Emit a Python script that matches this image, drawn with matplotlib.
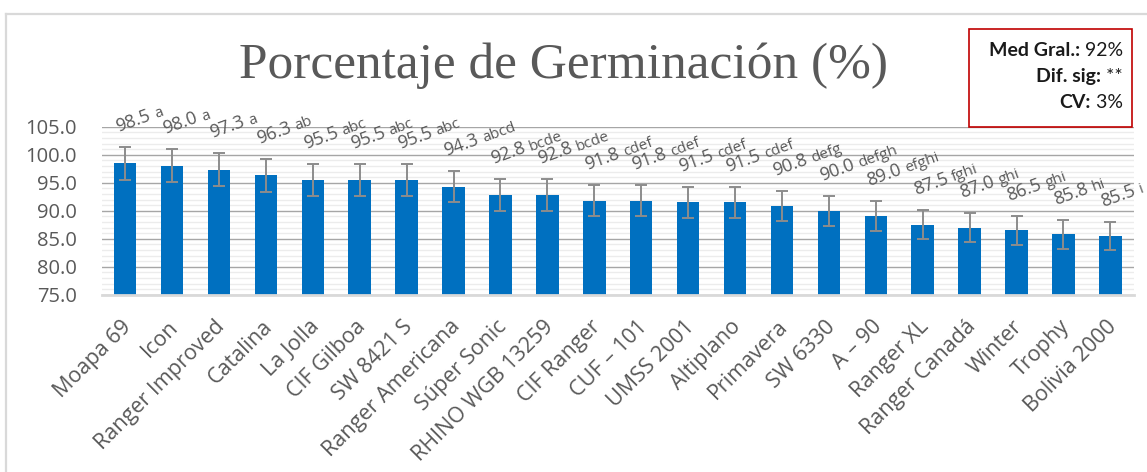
import matplotlib
matplotlib.use("Agg")
import matplotlib.pyplot as plt
from matplotlib.lines import Line2D
from matplotlib.patches import Rectangle
import numpy as np

# datos
variedades = ['Moapa 69', 'Icon', 'Ranger Improved', 'Catalina', 'La Jolla',
              'CIF Gilboa', 'SW 8421 S', 'Ranger Americana', 'Súper Sonic',
              'RHINO WGB 13259', 'CIF Ranger', 'CUF – 101', 'UMSS 2001',
              'Altiplano', 'Primavera', 'SW 6330', 'A – 90', 'Ranger XL',
              'Ranger Canadá', 'Winter', 'Trophy', 'Bolivia 2000']
germinacion = [98.5, 98.0, 97.3, 96.3, 95.5, 95.5, 95.5, 94.3, 92.8, 92.8, 91.8,
               91.8, 91.5, 91.5, 90.8, 90.0, 89.0, 87.5, 87.0, 86.5, 85.8, 85.5]
error = [2.96, 2.94, 2.92, 2.89, 2.87, 2.87, 2.87, 2.83, 2.78, 2.78, 2.75,
         2.75, 2.75, 2.75, 2.72, 2.70, 2.67, 2.63, 2.61, 2.60, 2.57, 2.57]
letras = ['a', 'a', 'a', 'ab', 'abc', 'abc', 'abc', 'abcd', 'bcde', 'bcde', 'cdef',
          'cdef', 'cdef', 'cdef', 'defg', 'defgh', 'efghi', 'fghi', 'ghi', 'ghi', 'hi', 'i']

W, H = 1147, 472
fig = plt.figure(figsize=(W / 100, H / 100), dpi=100)
ax = fig.add_axes([101.7 / W, 1 - 294.7 / H, (1133.8 - 101.7) / W, (294.7 - 126.7) / H])

gris = '#595959'
x = np.arange(len(variedades))
ax.bar(x, np.array(germinacion) - 75, bottom=75, width=0.48, color='#0070C0', zorder=3)
ax.errorbar(x, germinacion, yerr=error, fmt='none', ecolor='#8c8c8c',
            elinewidth=1.4, capsize=4.5, capthick=1.4, zorder=4)

ax.set_xlim(-0.5, len(variedades) - 0.5)
ax.set_ylim(75, 105)
ax.set_yticks(np.arange(75, 106, 5))
ax.set_yticks(np.arange(75, 106, 1), minor=True)
ax.set_yticklabels(['%.1f' % v for v in np.arange(75, 106, 5)],
                   fontfamily='Open Sans', fontsize=14.5, color=gris)
ax.grid(axis='y', which='major', color='#a6a6a6', lw=1, zorder=1)
ax.grid(axis='y', which='minor', color='#ececec', lw=1, zorder=0)
ax.tick_params(axis='y', which='both', length=0, pad=18)
ax.tick_params(axis='x', length=0)
for s in ['top', 'right', 'left']:
    ax.spines[s].set_visible(False)
ax.spines['bottom'].set_color('#d9d9d9')
ax.spines['bottom'].set_linewidth(2)
ax.spines['bottom'].set_zorder(5)

ax.set_xticks(x)
ax.set_xticklabels([])
for i, v in enumerate(variedades):
    ax.annotate(v, xy=(i, 75), xytext=(3, -29), textcoords='offset pixels',
                rotation=45, ha='right', va='center', rotation_mode='anchor',
                fontfamily='Open Sans', fontsize=15.5, color=gris, annotation_clip=False)

# etiquetas de valores con letras de significancia
renderer = fig.canvas.get_renderer()
ang = 20
ca, sa = np.cos(np.radians(ang)), np.sin(np.radians(ang))
for i in range(len(germinacion)):
    num = '%.1f' % germinacion[i]
    tmp = fig.text(0, 0, num + ' ', fontfamily='Open Sans', fontsize=13)
    w = tmp.get_window_extent(renderer).width
    tmp.remove()
    x0, y0 = -7, 15
    top = germinacion[i] + error[i]
    ax.annotate(num, xy=(i, top), xytext=(x0, y0), textcoords='offset pixels',
                rotation=ang, rotation_mode='anchor', ha='left', va='baseline',
                fontfamily='Open Sans', fontsize=13, color=gris, annotation_clip=False)
    ax.annotate(letras[i], xy=(i, top), xytext=(x0 + w * ca, y0 + w * sa),
                textcoords='offset pixels', rotation=ang, rotation_mode='anchor',
                ha='left', va='baseline', fontfamily='Open Sans', fontsize=11,
                color=gris, annotation_clip=False)

fig.text(563.5 / W, 1 - 78 / H, 'Porcentaje de Germinación (%)', ha='center', va='baseline',
         fontfamily='Liberation Serif', fontsize=37, color=gris)

# marco del grafico
fig.add_artist(Line2D([6 / W, 1], [1 - 14 / H, 1 - 14 / H], color='#d9d9d9', lw=1.6))
fig.add_artist(Line2D([6 / W, 6 / W], [0, 1 - 14 / H], color='#d9d9d9', lw=1.6))

# cuadro de estadisticos
fig.add_artist(Rectangle((969 / W, 1 - 127 / H), 163 / W, 98 / H, transform=fig.transFigure,
                         facecolor='white', edgecolor='#C00000', lw=1.2, zorder=6))
filas = [('Med Gral.:', ' 92%'), ('Dif. sig:', ' **'), ('CV:', ' 3%')]
for k, (et, val) in enumerate(filas):
    yb = 1 - (56 + 26 * k) / H
    t = fig.text(1123 / W, yb, val, ha='right', va='baseline', fontfamily='Lato',
                 fontsize=14, color='#1a1a1a', zorder=7)
    wv = t.get_window_extent(renderer).width
    fig.text((1123 - wv) / W, yb, et, ha='right', va='baseline', fontfamily='Lato',
             fontweight='bold', fontsize=14, color='#1a1a1a', zorder=7)

fig.savefig('out.png', dpi=100)
